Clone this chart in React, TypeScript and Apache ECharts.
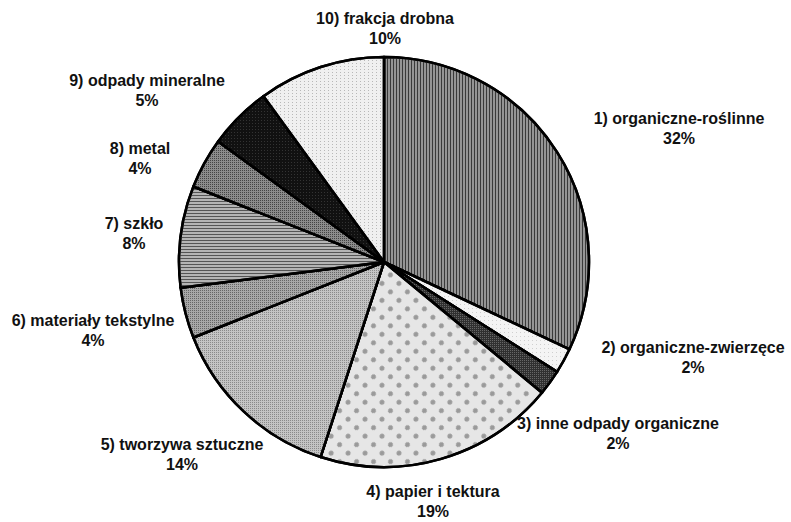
import React, { useEffect, useRef } from "react";
import * as echarts from "echarts";

const categories = [
  "1) organiczne-roślinne",
  "2) organiczne-zwierzęce",
  "3) inne odpady organiczne",
  "4) papier i tektura",
  "5) tworzywa sztuczne",
  "6) materiały tekstylne",
  "7) szkło",
  "8) metal",
  "9) odpady mineralne",
  "10) frakcja drobna",
];
const values = [32, 2, 2, 19, 14, 4, 8, 4, 5, 10];

// label block centres (layout)
const labelPos: [number, number][] = [
  [679, 128],
  [693, 357],
  [618, 433],
  [433, 501],
  [182, 454],
  [93, 330],
  [134, 233],
  [140, 158],
  [147, 90],
  [385, 28],
];

const fills = ["#959595", "#f4f4f4", "#303030", "#e6e6e6", "#c4c4c4", "#a8a8a8", "#b4b4b4", "#8c8c8c", "#111111", "#f0f0f0"];

const decals: any[] = [
  { symbol: "rect", color: "#3a3a3a", dashArrayX: [1, 2], dashArrayY: [8, 0], symbolSize: 1 },
  { symbol: "rect", color: "#cfcfcf", dashArrayX: [1, 3], dashArrayY: [1, 3], symbolSize: 1 },
  { symbol: "rect", color: "#666", dashArrayX: [1, 1], dashArrayY: [1, 1], symbolSize: 1 },
  { symbol: "circle", color: "#9a9a9a", dashArrayX: [5, 7], dashArrayY: [5, 7], symbolSize: 1, rotation: 0.785 },
  { symbol: "rect", color: "#8a8a8a", dashArrayX: [1, 1], dashArrayY: [1, 1], symbolSize: 1 },
  { symbol: "rect", color: "#666", dashArrayX: [1, 1], dashArrayY: [1, 1], symbolSize: 1 },
  { symbol: "rect", color: "#555", dashArrayX: [8, 0], dashArrayY: [1, 2], symbolSize: 1 },
  { symbol: "rect", color: "#444", dashArrayX: [1, 1], dashArrayY: [1, 1], symbolSize: 1 },
  { symbol: "rect", color: "#333", dashArrayX: [1, 2], dashArrayY: [1, 2], symbolSize: 1 },
  { symbol: "rect", color: "#b8b8b8", dashArrayX: [1, 3], dashArrayY: [1, 2], symbolSize: 1 },
];

export default function App() {
  const ref = useRef<HTMLDivElement>(null);
  useEffect(() => {
    if (!ref.current) return;
    const chart = echarts.init(ref.current, undefined, { renderer: "svg" });
    chart.setOption({
      animation: false,
      backgroundColor: "#ffffff",
      series: [
        {
          type: "pie",
          center: [384, 262],
          radius: 205,
          startAngle: 90,
          clockwise: true,
          silent: true,
          itemStyle: { borderColor: "#000", borderWidth: 2.5 },
          label: {
            show: true,
            position: "outside",
            formatter: (p: any) => `${p.name}\n${p.value}%`,
            fontFamily: "'Liberation Sans', Arial, sans-serif",
            fontSize: 16,
            fontWeight: "bold",
            color: "#111",
            lineHeight: 20,
            align: "center",
            overflow: "none",
            width: 260,
          },
          labelLine: { show: false },
          labelLayout: (params: any) => {
            const p = labelPos[params.dataIndex];
            return { x: p[0], y: p[1], align: "center", verticalAlign: "middle" };
          },
          data: categories.map((c, i) => ({
            name: c,
            value: values[i],
            itemStyle: { color: fills[i], decal: decals[i] },
          })),
        },
      ],
    });
    return () => chart.dispose();
  }, []);
  return <div ref={ref} style={{ position: "fixed", left: 0, top: 0, width: 791, height: 522 }} />;
}
